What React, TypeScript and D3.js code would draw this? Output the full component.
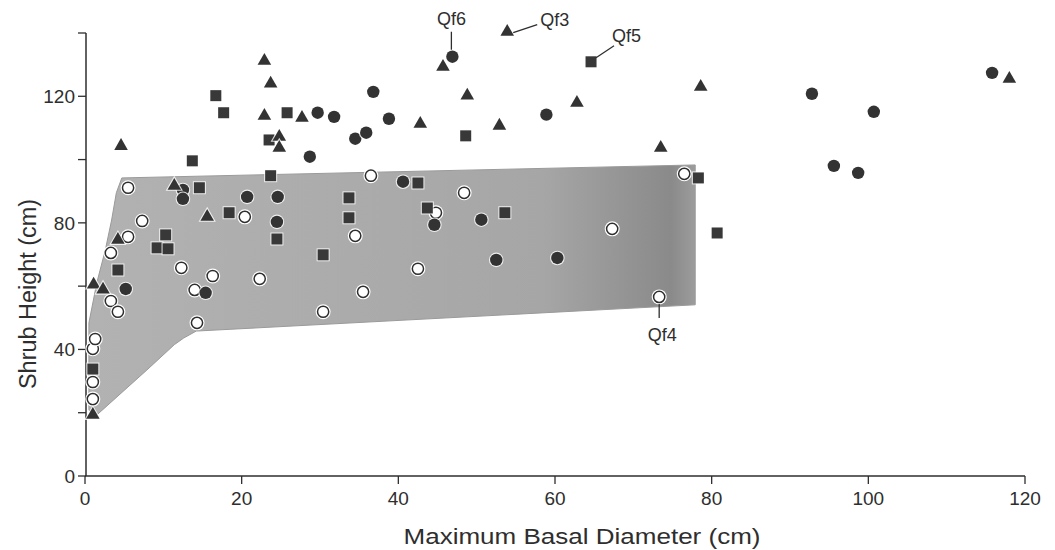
import React from "react";
import * as d3 from "d3";

// ---- data (Maximum Basal Diameter cm, Shrub Height cm) ----
const triangles: [number, number][] = [
  [1.0, 19.3], [1.1, 60.5], [2.3, 58.9], [4.2, 74.6], [4.6, 104.3], [11.4, 91.7],
  [15.6, 81.9], [22.9, 131.2], [23.7, 124.0], [22.9, 113.8], [27.7, 113.2], [24.8, 107.2],
  [24.8, 103.7], [45.7, 129.3], [48.8, 120.2], [42.8, 111.3], [52.9, 110.7], [53.9, 140.4],
  [62.8, 117.9], [78.6, 123.0], [73.5, 103.7], [118.0, 125.5],
];
const filledCircles: [number, number][] = [
  [5.2, 59.1], [12.5, 90.4], [12.5, 87.6], [15.4, 57.9], [20.7, 88.2], [24.6, 88.2],
  [24.5, 80.3], [28.7, 100.9], [29.7, 114.8], [31.8, 113.5], [34.5, 106.6], [35.9, 108.5],
  [36.8, 121.4], [38.8, 112.9], [40.6, 93.0], [44.6, 79.4], [46.9, 132.5], [50.6, 81.0],
  [52.5, 68.3], [58.9, 114.2], [60.3, 68.9], [92.8, 120.8], [95.6, 98.0], [98.7, 95.8],
  [100.7, 115.1], [115.8, 127.4],
];
const openCircles: [number, number][] = [
  [1.0, 24.3], [1.0, 29.7], [1.0, 40.2], [1.3, 43.3], [3.3, 55.3], [4.2, 51.9],
  [3.3, 70.5], [5.5, 75.6], [7.3, 80.6], [5.5, 91.1], [12.3, 65.8], [14.3, 48.4],
  [14.0, 58.8], [20.4, 81.9], [16.3, 63.2], [22.3, 62.3], [30.4, 51.9], [35.5, 58.2],
  [34.5, 75.9], [36.5, 94.9], [48.4, 89.5], [44.8, 83.2], [42.5, 65.5], [67.3, 78.1],
  [73.3, 56.6], [76.5, 95.5],
];
const squares: [number, number][] = [
  [1.0, 33.8], [4.2, 65.1], [10.3, 76.2], [9.2, 72.1], [10.6, 71.8], [14.6, 91.1],
  [13.7, 99.6], [16.7, 120.2], [17.7, 114.8], [25.8, 114.8], [23.5, 106.2], [48.6, 107.5],
  [23.7, 94.9], [18.4, 83.2], [24.5, 74.9], [30.4, 69.9], [33.7, 87.9], [33.7, 81.6],
  [42.5, 92.6], [43.7, 84.7], [53.6, 83.2], [78.3, 94.2], [80.7, 76.8], [64.6, 130.9],
];
// shaded envelope polygon
const envelope: [number, number][] = [
  [4.7, 94.2], [77.9, 98.3], [77.9, 54.1], [14.2, 45.8], [12.6, 43.6], [11.4, 41.5],
  [7.9, 33.5], [1.2, 18.6], [0.5, 20.9], [0.5, 48.4], [1.5, 61.0], [2.6, 71.5],
  [3.4, 80.9], [4.0, 89.5],
];
// annotation labels: [text, point x, point y]
const labels: { text: string; px: number; py: number }[] = [
  { text: "Qf6", px: 46.9, py: 132.5 },
  { text: "Qf3", px: 53.9, py: 140.4 },
  { text: "Qf5", px: 64.6, py: 130.9 },
  { text: "Qf4", px: 73.3, py: 56.6 },
];
const xTicks = [0, 20, 40, 60, 80, 100, 120];
const yTicks = [0, 20, 40, 60, 80, 100, 120, 140];
const yLabels = [0, 40, 80, 120];

const W = 1055, H = 550;
const x = d3.scaleLinear().domain([0, 120]).range([85, 1025]);
const y = d3.scaleLinear().domain([0, 140]).range([476, 33]);

const ink = "#2e2e2e";
const font = "Liberation Sans, Arial, Helvetica, sans-serif";

export default function App() {
  const line = d3.line<[number, number]>().x(d => x(d[0])).y(d => y(d[1])).curve(d3.curveLinearClosed);
  const tri = d3.symbol().type(d3.symbolTriangle).size(80)()!;
  const triHalo = d3.symbol().type(d3.symbolTriangle).size(130)()!;

  const lab = (t: string) => labels.find(l => l.text === t)!;
  const q6 = lab("Qf6"), q3 = lab("Qf3"), q5 = lab("Qf5"), q4 = lab("Qf4");

  return (
    <svg width={W} height={H} style={{ position: "absolute", left: 0, top: 0, background: "#fff" }}
      fontFamily={font}>
      <defs>
        <linearGradient id="shade" x1="0" x2="1" y1="0" y2="0">
          <stop offset="0" stopColor="#b2b2b2" />
          <stop offset="0.75" stopColor="#a6a6a6" />
          <stop offset="0.9" stopColor="#929292" />
          <stop offset="0.96" stopColor="#8a8a8a" />
          <stop offset="1" stopColor="#9c9c9c" />
        </linearGradient>
      </defs>
      <rect width={W} height={H} fill="#fff" />
      <path d={line(envelope)!} fill="url(#shade)" stroke="#9a9a9a" strokeWidth={1} strokeLinejoin="round" />

      {/* axes */}
      <line x1={x(0) + 1} x2={x(0) + 1} y1={y(0)} y2={y(140)} stroke={ink} strokeWidth={1.5} />
      <line x1={x(0)} x2={x(120)} y1={y(0)} y2={y(0)} stroke={ink} strokeWidth={1.5} />
      {yTicks.map(t => (
        <line key={"yt" + t} x1={x(0) - 7} x2={x(0) + 1} y1={y(t)} y2={y(t)} stroke={ink} strokeWidth={1.3} />
      ))}
      {yLabels.map(t => (
        <text key={"yl" + t} x={x(0) - 10} y={y(t)} dy="0.35em" textAnchor="end" fontSize={19} fill={ink}>{t}</text>
      ))}
      {xTicks.map(t => (
        <g key={"xt" + t}>
          <line x1={x(t)} x2={x(t)} y1={y(0)} y2={y(0) + 8} stroke={ink} strokeWidth={1.3} />
          <text x={x(t)} y={y(0) + 22} dy="0.35em" textAnchor="middle" fontSize={19} fill={ink}>{t}</text>
        </g>
      ))}
      <text x={582} y={536} dy="0.35em" textAnchor="middle" fontSize={22} fill={ink}
        textLength={357} lengthAdjust="spacingAndGlyphs">Maximum Basal Diameter (cm)</text>
      <text transform={`translate(28,294) rotate(-90)`} dy="0.35em" textAnchor="middle" fontSize={23} fill={ink}
        textLength={190} lengthAdjust="spacingAndGlyphs">Shrub Height (cm)</text>

      {/* markers */}
      {openCircles.map((d, i) => (
        <g key={"oc" + i}>
          <circle cx={x(d[0])} cy={y(d[1])} r={7.5} fill="#fff" />
          <circle cx={x(d[0])} cy={y(d[1])} r={5.6} fill="#fff" stroke={ink} strokeWidth={1.5} />
        </g>
      ))}
      {squares.map((d, i) => (
        <g key={"sq" + i}>
          <rect x={x(d[0]) - 6.5} y={y(d[1]) - 6.5} width={13} height={13} fill="#fff" opacity={0.8} />
          <rect x={x(d[0]) - 5.5} y={y(d[1]) - 5.5} width={11} height={11} fill="#383838" />
        </g>
      ))}
      {filledCircles.map((d, i) => (
        <g key={"fc" + i}>
          <circle cx={x(d[0])} cy={y(d[1])} r={7.3} fill="#fff" opacity={0.8} />
          <circle cx={x(d[0])} cy={y(d[1])} r={6.2} fill="#333" />
        </g>
      ))}
      {triangles.map((d, i) => (
        <g key={"tr" + i} transform={`translate(${x(d[0])},${y(d[1])})`}>
          <path d={triHalo} fill="#fff" opacity={0.8} />
          <path d={tri} fill="#333" />
        </g>
      ))}

      {/* annotations */}
      <line x1={x(q6.px) - 1} x2={x(q6.px) - 1} y1={y(q6.py) - 7} y2={y(q6.py) - 25} stroke={ink} strokeWidth={1.3} />
      <text x={x(q6.px) - 1} y={19} dy="0.35em" textAnchor="middle" fontSize={18} fill={ink}>Qf6</text>

      <line x1={x(q3.px) + 6} x2={x(q3.px) + 30} y1={y(q3.py) + 1} y2={y(q3.py) - 7} stroke={ink} strokeWidth={1.3} />
      <text x={x(q3.px) + 33} y={20} dy="0.35em" textAnchor="start" fontSize={18} fill={ink}>Qf3</text>

      <line x1={x(q5.px) + 5} x2={x(q5.px) + 23} y1={y(q5.py) - 4} y2={y(q5.py) - 16} stroke={ink} strokeWidth={1.3} />
      <text x={x(q5.px) + 21} y={36} dy="0.35em" textAnchor="start" fontSize={18} fill={ink}>Qf5</text>

      <line x1={x(q4.px)} x2={x(q4.px)} y1={y(q4.py) + 7} y2={y(q4.py) + 21} stroke={ink} strokeWidth={1.3} />
      <text x={x(q4.px) + 3} y={y(q4.py) + 38} dy="0.35em" textAnchor="middle" fontSize={18} fill={ink}>Qf4</text>
    </svg>
  );
}
